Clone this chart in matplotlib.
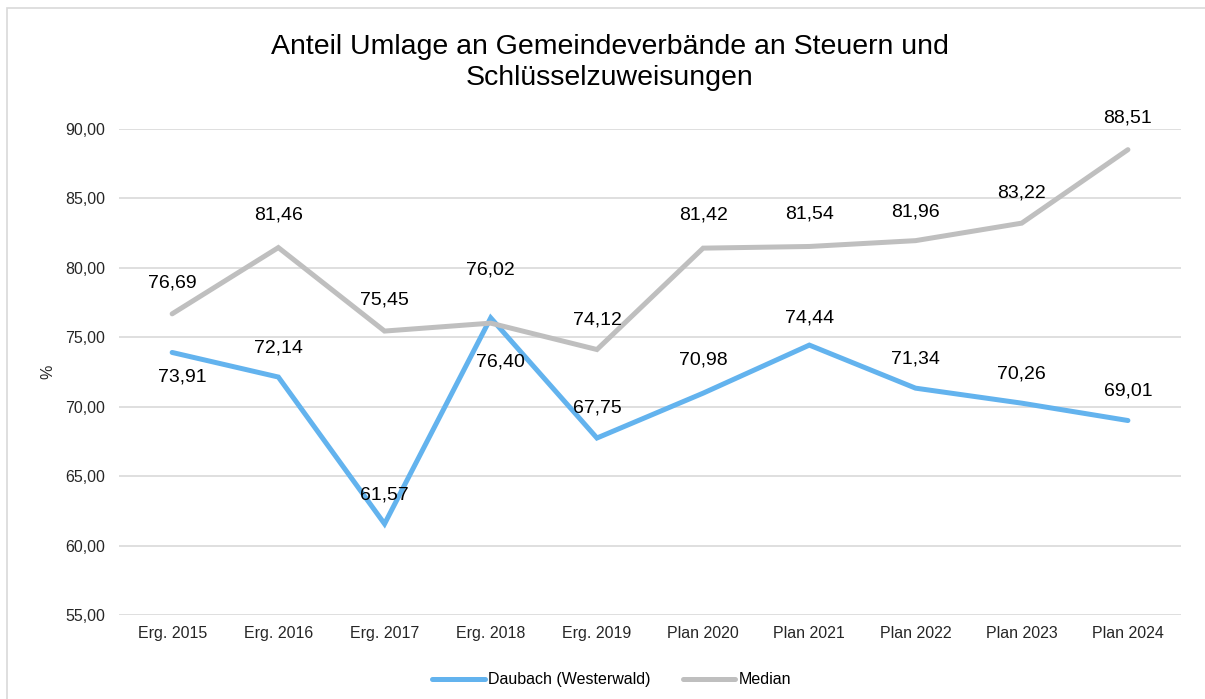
import matplotlib.pyplot as plt
from matplotlib.patches import Rectangle

plt.rcParams['font.family'] = ['Liberation Sans', 'DejaVu Sans']

kategorien = ['Erg. 2015', 'Erg. 2016', 'Erg. 2017', 'Erg. 2018', 'Erg. 2019',
              'Plan 2020', 'Plan 2021', 'Plan 2022', 'Plan 2023', 'Plan 2024']
daubach = [73.91, 72.14, 61.57, 76.40, 67.75, 70.98, 74.44, 71.34, 70.26, 69.01]
median = [76.69, 81.46, 75.45, 76.02, 74.12, 81.42, 81.54, 81.96, 83.22, 88.51]

# Versatz der Beschriftungen in Pixeln (wie im Original verschoben)
versatz_daubach = [(10, -25), (0, 29), (0, 29), (10, -44), (0, 30),
                   (0, 33), (0, 27), (0, 29), (0, 29), (0, 30)]
versatz_median = [(0, 31), (0, 33), (0, 31), (0, 53), (0, 30),
                  (0, 33), (0, 32), (0, 29), (0, 30), (0, 32)]

blau = '#63B3EE'
grau = '#BFBFBF'

fig = plt.figure(figsize=(12.05, 6.99), dpi=100)
ax = fig.add_axes([0.0988, 0.12, 0.8813, 0.6955])

x = range(len(kategorien))
ax.plot(x, daubach, color=blau, lw=3.6, solid_joinstyle='miter', solid_capstyle='round',
        label='Daubach (Westerwald)', zorder=3)
ax.plot(x, median, color=grau, lw=3.6, solid_joinstyle='miter', solid_capstyle='round',
        label='Median', zorder=3)

for i in x:
    ax.annotate(f'{daubach[i]:.2f}'.replace('.', ','), (i, daubach[i]),
                xytext=(versatz_daubach[i][0] * 0.72, versatz_daubach[i][1] * 0.72),
                textcoords='offset points', ha='center', va='center', fontsize=14)
    ax.annotate(f'{median[i]:.2f}'.replace('.', ','), (i, median[i]),
                xytext=(versatz_median[i][0] * 0.72, versatz_median[i][1] * 0.72),
                textcoords='offset points', ha='center', va='center', fontsize=14)

ax.set_xlim(-0.5, len(kategorien) - 0.5)
ax.set_ylim(55, 90)
ax.set_yticks(range(55, 91, 5))
ax.set_yticklabels([f'{v:.2f}'.replace('.', ',') for v in range(55, 91, 5)])
ax.set_xticks(list(x))
ax.set_xticklabels(kategorien)
ax.tick_params(length=0, labelsize=11.5, colors='#262626')
ax.tick_params(axis='y', pad=10)
ax.tick_params(axis='x', pad=8)
ax.grid(axis='y', color='#D9D9D9', lw=1.2)
ax.set_axisbelow(True)
for s in ax.spines.values():
    s.set_visible(False)

ax.set_ylabel('%', fontsize=11.5, color='#262626')
ax.yaxis.set_label_coords(-0.06, 0.5)

fig.text(0.506, 0.9106, 'Anteil Umlage an Gemeindeverbände an Steuern und\nSchlüsselzuweisungen',
         ha='center', va='center', fontsize=20.5, linespacing=1.22)

ax.legend(loc='center', bbox_to_anchor=(0.464, -0.133), ncol=2, frameon=False,
          fontsize=11.5, handlelength=3.3, handletextpad=0.2, columnspacing=2.0)

fig.patches.append(Rectangle((7 / 1205, -0.01), 1.02, 1 - 8 / 699 + 0.01,
                             transform=fig.transFigure, fill=False,
                             edgecolor='#D9D9D9', lw=1.2))

fig.savefig('out.png', dpi=100)
